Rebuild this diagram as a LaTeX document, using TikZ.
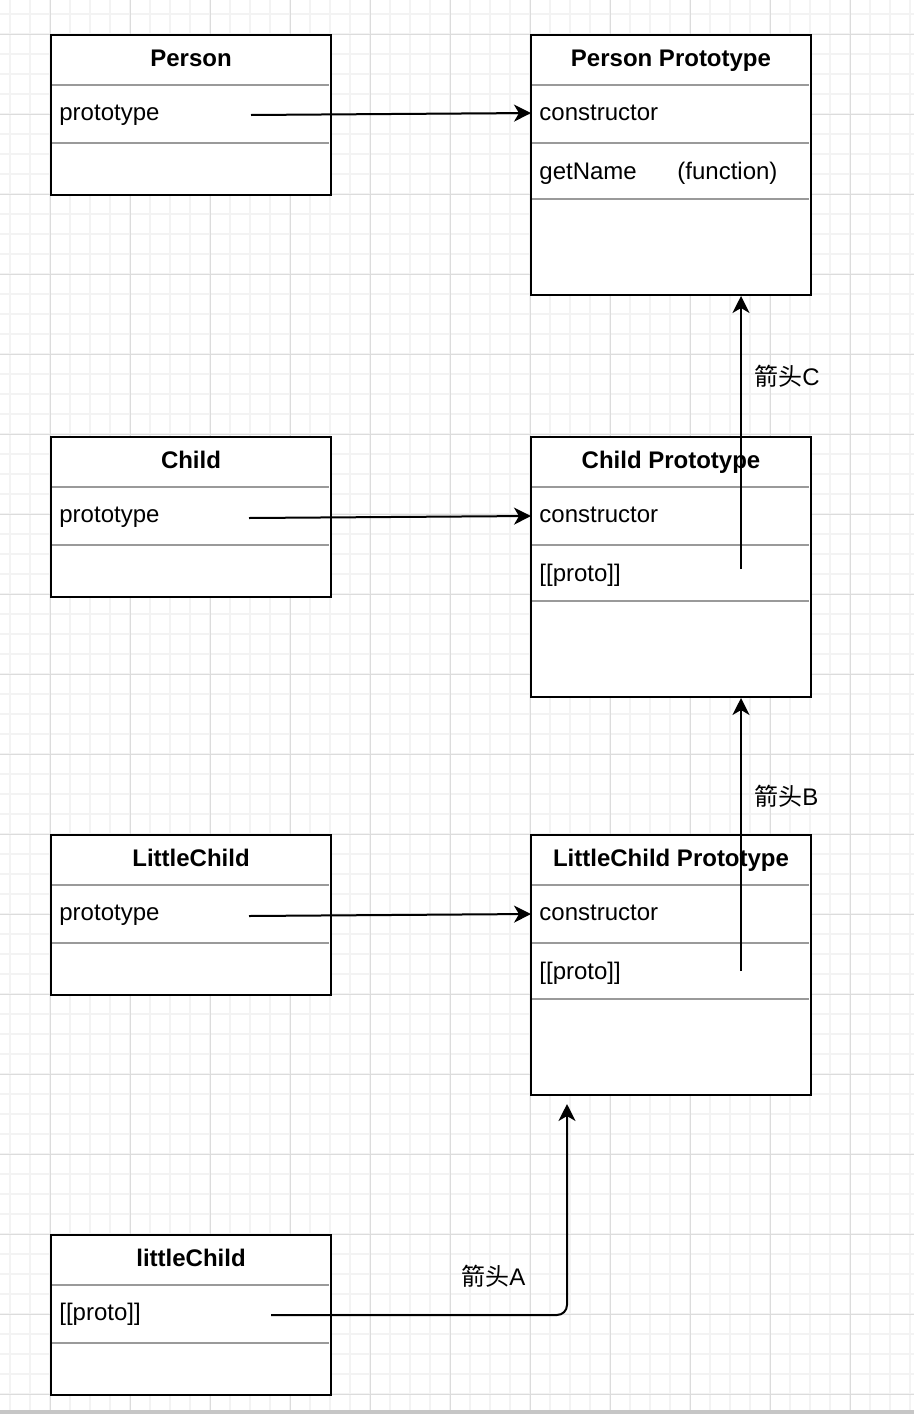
\documentclass[tikz,border=0pt]{standalone}
\usepackage{fontspec}
\setmainfont{Liberation Sans}
\newfontfamily\cjk{Noto Sans CJK SC}
\usetikzlibrary{arrows.meta}
\definecolor{gridminor}{HTML}{F3F3F3}
\definecolor{gridmajor}{HTML}{DCDCDC}
\definecolor{divcol}{HTML}{9A9A9A}
\definecolor{barcol}{HTML}{C6C6C6}
\begin{document}
\begin{tikzpicture}[x=0.5pt,y=-0.5pt,
  minorline/.style={draw=gridminor, line width=0.85pt},
  majorline/.style={draw=gridmajor, line width=0.5pt},
  box/.style={draw=black, line width=1pt, fill=white, rectangle, inner sep=0pt, minimum width=140pt},
  smallbox/.style={box, minimum height=80pt},
  bigbox/.style={box, minimum height=130pt},
  div/.style={draw=divcol, line width=1pt},
  hdr/.style={font=\bfseries\fontsize{12}{14}\selectfont, inner sep=0pt, anchor=base},
  fld/.style={font=\fontsize{12}{14}\selectfont, inner sep=0pt, anchor=base west},
  lbl/.style={font=\fontsize{12}{14}\selectfont, inner sep=0pt, anchor=base west},
  arr/.style={draw=black, line width=1pt, -{Stealth[length=8.5pt,width=8.5pt,inset=2.5pt]}}]
\useasboundingbox (0,0) rectangle (914,1414);
\fill[white] (0,0) rectangle (914,1414);
% grid
\foreach \x in {10,30,...,910} \draw[minorline] (\x,0) -- (\x,1410);
\foreach \y in {14,34,...,1394} \draw[minorline] (0,\y) -- (914,\y);
\foreach \x in {50,130,...,850} \draw[majorline] (\x,0) -- (\x,1410);
\foreach \y in {34,114,...,1394} \draw[majorline] (0,\y) -- (914,\y);
\fill[barcol] (0,1410) rectangle (914,1414);

% boxes
\node[smallbox] (person)  at (191,115)  {};
\node[bigbox]   (pproto)  at (671,165)  {};
\node[smallbox] (child)   at (191,517)  {};
\node[bigbox]   (cproto)  at (671,567)  {};
\node[smallbox] (lchild)  at (191,915)  {};
\node[bigbox]   (lcproto) at (671,965)  {};
\node[smallbox] (lc)      at (191,1315) {};

% dividers
\foreach \t in {35,437,835,1235} {
  \draw[div] (52,\t+50) -- (329,\t+50);
  \draw[div] (52,\t+108) -- (329,\t+108);
}
\foreach \t in {35,437,835} {
  \draw[div] (532,\t+50) -- (809,\t+50);
  \draw[div] (532,\t+108) -- (809,\t+108);
  \draw[div] (532,\t+164) -- (809,\t+164);
}

% texts
\node[hdr] (person-h) at (191,66) {Person};
\node[fld] (person-f1) at (59,120) {prototype};
\node[hdr] (pproto-h) at (671,66) {Person Prototype};
\node[fld] (pproto-f1) at (539,120) {constructor};
\node[fld] (pproto-f2) at (539,179) {getName};
\node[fld] (pproto-f2b) at (677,179) {(function)};

\node[hdr] (child-h) at (191,468) {Child};
\node[fld] (child-f1) at (59,522) {prototype};
\node[hdr] (cproto-h) at (671,468) {Child Prototype};
\node[fld] (cproto-f1) at (539,522) {constructor};
\node[fld] (cproto-f2) at (539,581) {[[proto]]};

\node[hdr] (lchild-h) at (191,866) {LittleChild};
\node[fld] (lchild-f1) at (59,920) {prototype};
\node[hdr] (lcproto-h) at (671,866) {LittleChild Prototype};
\node[fld] (lcproto-f1) at (539,920) {constructor};
\node[fld] (lcproto-f2) at (539,979) {[[proto]]};

\node[hdr] (lc-h) at (191,1266) {littleChild};
\node[fld] (lc-f1) at (59,1320) {[[proto]]};

% connector end points
\coordinate (p-out)   at (251,115);
\coordinate (pp-in)   at (531,113);
\coordinate (c-out)   at (249,518);
\coordinate (cp-in)   at (531,516);
\coordinate (l-out)   at (249,916);
\coordinate (lp-in)   at (531,914);
\coordinate (cp-up)   at (741,569);
\coordinate (pp-bot)  at (741,296);
\coordinate (lp-up)   at (741,971);
\coordinate (cp-bot)  at (741,698);
\coordinate (lc-out)  at (271,1315);
\coordinate (lp-bot)  at (567,1104);

% connectors
\draw[arr] (p-out) -- (pp-in);
\draw[arr] (c-out) -- (cp-in);
\draw[arr] (l-out) -- (lp-in);
\draw[arr] (cp-up) -- (pp-bot);
\draw[arr] (lp-up) -- (cp-bot);
\draw[arr, rounded corners=5pt] (lc-out) -| (lp-bot);

% labels
\node[lbl] (labC) at (754,385) {{\cjk 箭头}C};
\node[lbl] (labB) at (754,805) {{\cjk 箭头}B};
\node[lbl] (labA) at (461,1285) {{\cjk 箭头}A};
\end{tikzpicture}
\end{document}
